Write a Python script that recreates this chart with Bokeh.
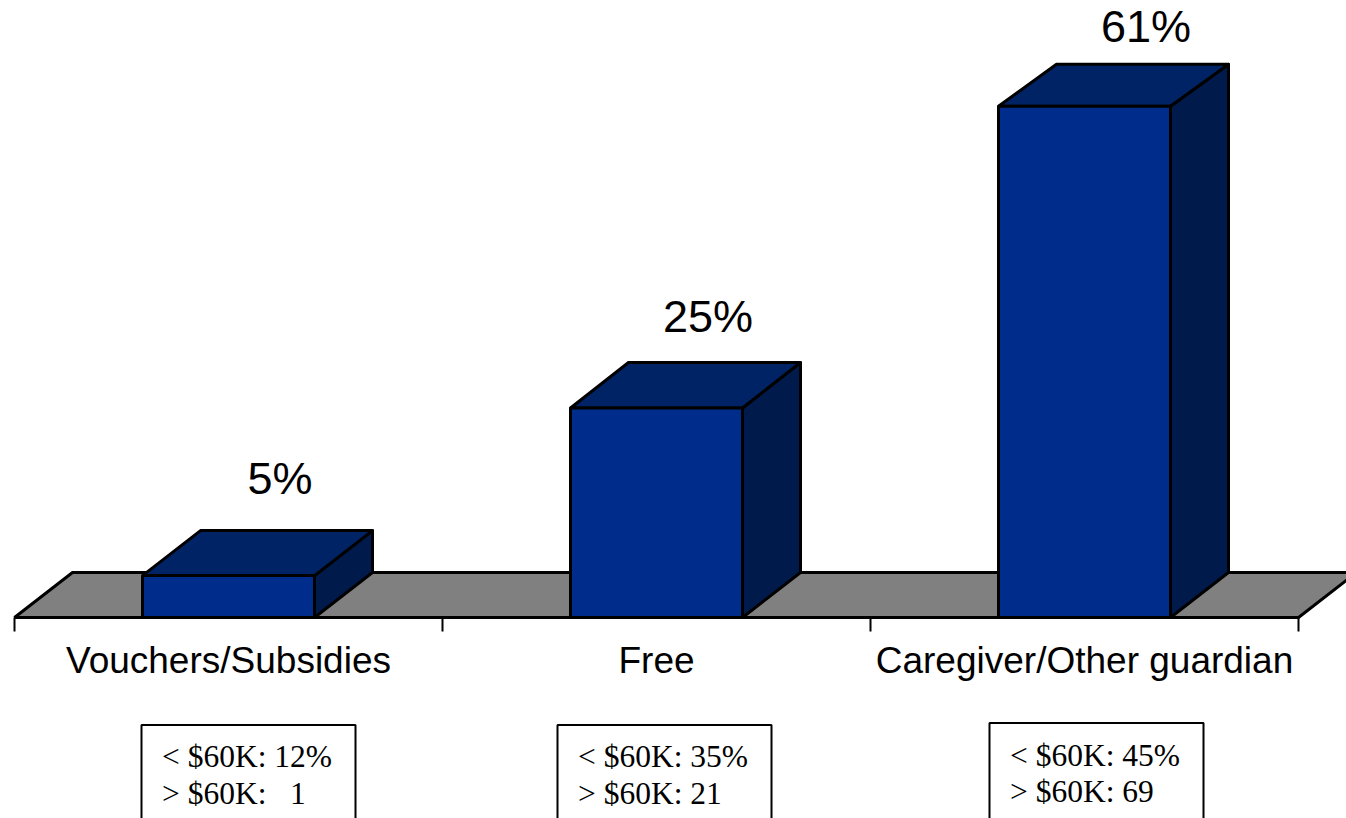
from bokeh.plotting import figure
from bokeh.models import FixedTicker, LinearAxis, ColumnDataSource
from bokeh.core.properties import value
from bokeh.embed import file_html
from bokeh.resources import INLINE

# ---- data ----
categories = ["Vouchers/Subsidies", "Free", "Caregiver/Other guardian"]
shares = [5, 25, 61]
share_labels = ["5%", "25%", "61%"]
notes_low = ["< $60K: 12%", "< $60K: 35%", "< $60K: 45%"]
notes_high = ["> $60K:\u00a0\u00a0\u00a01", "> $60K: 21", "> $60K: 69"]

# ---- layout (pixels) ----
W, H = 1346, 818
BASE = 617          # y of the floor's front edge
PX_X = 428          # px per category
PX_Y = 8.38         # px per percent
CENTER0 = 228       # px of first category
DX = 58 / PX_X
FLOOR_DY = 45 / PX_Y
DEPTH = [d / PX_Y for d in (45, 45.5, 42)]
HALF = 86 / PX_X
LW = 3
FRONT, TOP, SIDE, FLOOR = "#002D8C", "#002366", "#001A4C", "#808080"

def X(px):
    return (px - CENTER0) / PX_X

def Y(py):
    return (BASE - py) / PX_Y

p = figure(width=W, height=H, x_range=(X(0), X(W)), y_range=(Y(H), Y(0)),
           output_backend="svg", toolbar_location=None, x_axis_type=None, y_axis_type=None,
           min_border=0, background_fill_color="white", outline_line_color=None)
p.grid.visible = False
p.styles = {"position": "absolute", "left": "0", "top": "0"}

idx = list(range(len(categories)))

# floor
left_edge, right_edge = -0.5, 2.5
p.patch([left_edge, left_edge + DX, right_edge + DX, right_edge],
        [0, FLOOR_DY, FLOOR_DY, 0], fill_color=FLOOR, line_color="black", line_width=LW)

# bars: side, top, front
p.patches([[i + HALF, i + HALF + DX, i + HALF + DX, i + HALF] for i in idx],
          [[0, FLOOR_DY, v + d, v] for v, d in zip(shares, DEPTH)],
          fill_color=SIDE, line_color="black", line_width=LW, line_join="round")
p.patches([[i - HALF, i - HALF + DX, i + HALF + DX, i + HALF] for i in idx],
          [[v, v + d, v + d, v] for v, d in zip(shares, DEPTH)],
          fill_color=TOP, line_color="black", line_width=LW, line_join="round")
p.quad(left=[i - HALF for i in idx], right=[i + HALF for i in idx],
       bottom=[0] * 3, top=shares, fill_color=FRONT, line_color="black", line_width=LW)

# value labels
src = ColumnDataSource(dict(x=[i + 0.125 for i in idx], y=[v + d for v, d in zip(shares, DEPTH)],
                            t=share_labels, xo=[-2, -2, 8], yo=[-52, -46, -38]))
p.text(x="x", y="y", text="t", x_offset="xo", y_offset="yo", source=src, text_align="center",
       text_baseline="alphabetic", text_font=value("Liberation Sans"),
       text_font_size="45px", text_color="black")

# category axis
axis = LinearAxis(ticker=FixedTicker(ticks=idx, minor_ticks=[-0.5, 0.5, 1.5, 2.5]),
                  major_label_overrides={i: c for i, c in zip(idx, categories)},
                  bounds=(left_edge, right_edge), fixed_location=0)
axis.axis_line_color = "black"
axis.axis_line_width = 3
axis.major_tick_line_color = None
axis.major_tick_out = 0
axis.major_tick_in = 0
axis.minor_tick_line_color = "black"
axis.minor_tick_line_width = 2
axis.minor_tick_out = 14
axis.minor_tick_in = 0
axis.major_label_standoff = 8
axis.major_label_text_font = "Liberation Sans"
axis.major_label_text_font_size = "37px"
axis.major_label_text_color = "black"
p.add_layout(axis, "below")

# note boxes under the axis
box_left = [141, 557, 989]
box_top = [724.5, 724.5, 722.5]
box_width = 214
baseline_1 = [756, 756, 754.5]
baseline_2 = [793, 793, 791]
p.quad(left=[X(v) for v in box_left], right=[X(v + box_width) for v in box_left],
       top=[Y(v) for v in box_top], bottom=[Y(H + 30)] * 3,
       fill_color="white", line_color="black", line_width=2)
note_src = ColumnDataSource(dict(
    x=[X(v + 20.5) for v in box_left] * 2,
    y=[Y(v) for v in baseline_1] + [Y(v) for v in baseline_2],
    t=notes_low + notes_high))
p.text(x="x", y="y", text="t", source=note_src, text_align="left", text_baseline="alphabetic",
       text_font=value("Liberation Serif"), text_font_size="31.5px", text_color="black")

open("out.html", "w").write(file_html(p, INLINE))
